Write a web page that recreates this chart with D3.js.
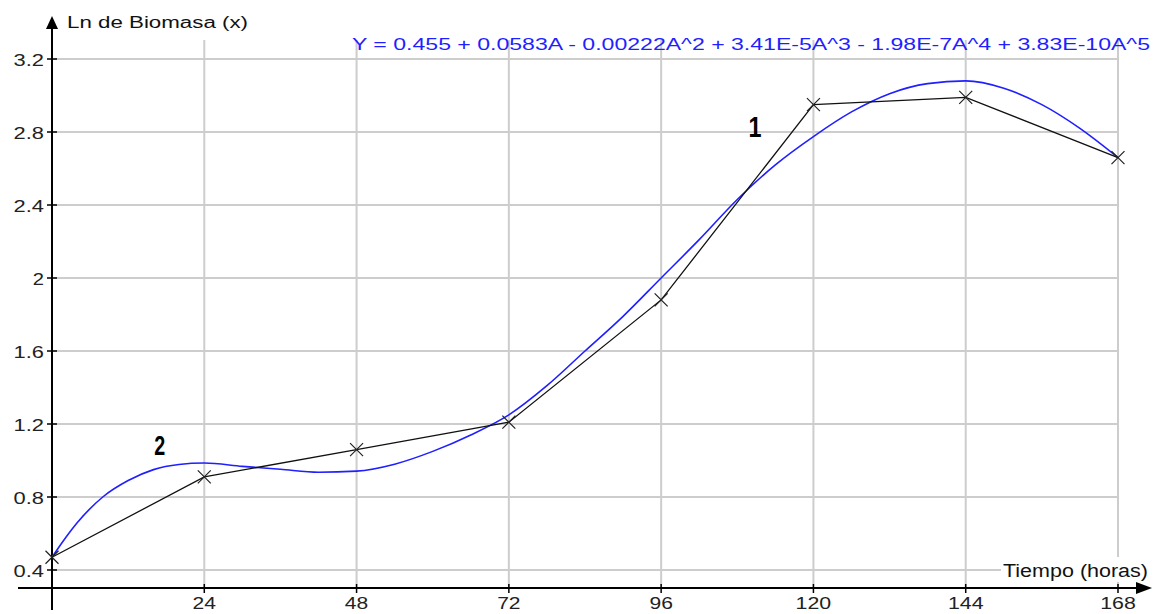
<!DOCTYPE html>
<html>
<head>
<meta charset="utf-8">
<script src="https://cdn.jsdelivr.net/npm/d3@7"></script>
<style>
  html, body { margin: 0; padding: 0; background: #fff; }
  svg { display: block; }
  text { font-family: "Liberation Sans", Arial, sans-serif; }
</style>
</head>
<body>
<svg id="chart" width="1154" height="614"></svg>
<script>
// Measured ln(biomass) over time
const hours = [0, 24, 48, 72, 96, 120, 144, 168];
const lnBiomass = [0.47, 0.91, 1.06, 1.21, 1.88, 2.95, 2.99, 2.66];

// Fitted 5th-degree polynomial curve, sampled along the time axis
const fitHours = [0, 2, 4, 8, 12, 16, 20, 24, 30, 36, 42, 48, 54, 60, 66, 72, 78, 84, 90,
                  96, 102, 108, 114, 120, 126, 132, 138, 144, 150, 156, 162, 168];
const fitValues = [0.47, 0.57, 0.66, 0.80, 0.89, 0.95, 0.978, 0.986, 0.968, 0.952, 0.936, 0.942,
                   0.98, 1.05, 1.14, 1.25, 1.41, 1.60, 1.79, 2.00, 2.21, 2.43, 2.62, 2.775,
                   2.91, 3.01, 3.065, 3.08, 3.04, 2.95, 2.82, 2.66];

const xTicks = [0, 24, 48, 72, 96, 120, 144, 168];
const xTickLabels = ["", "24", "48", "72", "96", "120", "144", "168"];
const yTicks = [0.4, 0.8, 1.2, 1.6, 2.0, 2.4, 2.8, 3.2];
const yTickLabels = ["0.4", "0.8", "1.2", "1.6", "2", "2.4", "2.8", "3.2"];

const equation = "Y = 0.455 + 0.0583A - 0.00222A^2 + 3.41E-5A^3 - 1.98E-7A^4 + 3.83E-10A^5";
const yTitle = "Ln de Biomasa (x)";
const xTitle = "Tiempo (horas)";
const annotations = [
  { label: "1", hour: 110.8, value: 2.77, size: 30 },
  { label: "2", hour: 17.0, value: 1.03, size: 27 }
];

const svg = d3.select("#chart");

const x = d3.scaleLinear().domain([0, 168]).range([52, 1118]);
const y = d3.scaleLinear().domain([0.4, 3.2]).range([570, 59]);
const axisY = 588;   // pixel row of the time axis
const gridTop = 40;

// width of a tick label in the wide bitmap-style font
const labelWidth = s => s.split("").reduce((w, c) => w + (c === "." ? 7 : 12.2), 0) - 1;

// ---- grid ----
const grid = svg.append("g").attr("stroke", "#cdcdcd").attr("stroke-width", 2);
grid.selectAll("line.v").data(xTicks.slice(1)).join("line")
  .attr("x1", d => x(d)).attr("x2", d => x(d))
  .attr("y1", gridTop).attr("y2", axisY);
grid.selectAll("line.h").data(yTicks).join("line")
  .attr("x1", x(0)).attr("x2", x(168))
  .attr("y1", d => y(d)).attr("y2", d => y(d));

// ---- axes built with d3.axis, then restyled ----
const yAxis = svg.append("g")
  .attr("transform", `translate(${x(0)},0)`)
  .call(d3.axisLeft(y).tickValues(yTicks).tickSize(0).tickFormat(() => ""));
yAxis.select(".domain").remove();
const xAxis = svg.append("g")
  .attr("transform", `translate(0,${axisY})`)
  .call(d3.axisBottom(x).tickValues(xTicks).tickSize(0).tickFormat(() => ""));
xAxis.select(".domain").remove();

// tick marks crossing the axes
svg.append("g").attr("stroke", "#000").attr("stroke-width", 1.5)
  .selectAll("line").data(yTicks).join("line")
  .attr("x1", x(0) - 5).attr("x2", x(0) + 5)
  .attr("y1", d => y(d)).attr("y2", d => y(d));
svg.append("g").attr("stroke", "#000").attr("stroke-width", 1.5)
  .selectAll("line").data(xTicks.slice(1)).join("line")
  .attr("x1", d => x(d)).attr("x2", d => x(d))
  .attr("y1", axisY - 4).attr("y2", axisY + 5);

// tick labels
svg.append("g").selectAll("text").data(yTicks).join("text")
  .attr("x", x(0) - 8).attr("y", d => y(d) + 6.5)
  .attr("text-anchor", "end").attr("font-size", 17).attr("fill", "#222")
  .attr("textLength", (d, i) => labelWidth(yTickLabels[i]))
  .attr("lengthAdjust", "spacingAndGlyphs")
  .text((d, i) => yTickLabels[i]);
svg.append("g").selectAll("text").data(xTicks.slice(1)).join("text")
  .attr("x", d => x(d)).attr("y", 609)
  .attr("text-anchor", "middle").attr("font-size", 16).attr("fill", "#222")
  .attr("textLength", (d, i) => labelWidth(xTickLabels[i + 1]))
  .attr("lengthAdjust", "spacingAndGlyphs")
  .text((d, i) => xTickLabels[i + 1]);

// axis lines with arrowheads
svg.append("line").attr("x1", x(0)).attr("x2", x(0)).attr("y1", 610).attr("y2", 24)
  .attr("stroke", "#000").attr("stroke-width", 2);
svg.append("path").attr("d", `M${x(0) - 6},29 L${x(0) + 6},29 L${x(0)},16 Z`).attr("fill", "#000");
svg.append("line").attr("x1", 18).attr("x2", 1140).attr("y1", axisY).attr("y2", axisY)
  .attr("stroke", "#000").attr("stroke-width", 2);
svg.append("path").attr("d", `M1136,${axisY - 6} L1136,${axisY + 6} L1152,${axisY} Z`).attr("fill", "#000");

// axis titles
svg.append("text").attr("x", 67).attr("y", 28).attr("font-size", 16).attr("fill", "#111")
  .attr("textLength", 181).attr("lengthAdjust", "spacingAndGlyphs").text(yTitle);
svg.append("rect").attr("x", 1001).attr("y", 557).attr("width", 152).attr("height", 25).attr("fill", "#fff");
svg.append("text").attr("x", 1003).attr("y", 577).attr("font-size", 18).attr("fill", "#111")
  .attr("textLength", 145).attr("lengthAdjust", "spacingAndGlyphs").text(xTitle);

// fitted equation
svg.append("text").attr("x", 352).attr("y", 50).attr("font-size", 17).attr("fill", "#1f1fff")
  .attr("textLength", 798).attr("lengthAdjust", "spacingAndGlyphs").text(equation);

// ---- fitted curve ----
const fitData = fitHours.map((h, i) => [h, fitValues[i]]);
svg.append("path").datum(fitData)
  .attr("fill", "none").attr("stroke", "#1f1fff").attr("stroke-width", 1.6)
  .attr("d", d3.line().x(d => x(d[0])).y(d => y(d[1])).curve(d3.curveMonotoneX));

// ---- measured series ----
const obs = hours.map((h, i) => [h, lnBiomass[i]]);
svg.append("path").datum(obs)
  .attr("fill", "none").attr("stroke", "#111").attr("stroke-width", 1.3)
  .attr("d", d3.line().x(d => x(d[0])).y(d => y(d[1])));
const m = 6.5;
svg.append("g").attr("stroke", "#222").attr("stroke-width", 1.2)
  .selectAll("path").data(obs).join("path")
  .attr("d", d => {
    const cx = x(d[0]), cy = y(d[1]);
    return `M${cx - m},${cy - m}L${cx + m},${cy + m}M${cx - m},${cy + m}L${cx + m},${cy - m}`;
  });

// ---- annotations ----
svg.append("g").selectAll("text").data(annotations).join("text")
  .attr("x", d => x(d.hour)).attr("y", d => y(d.value))
  .attr("text-anchor", "middle")
  .attr("font-size", d => d.size).attr("font-weight", "bold").attr("fill", "#000")
  .attr("textLength", d => d.label === "1" ? 13 : 11)
  .attr("lengthAdjust", "spacingAndGlyphs")
  .text(d => d.label);
</script>
</body>
</html>
